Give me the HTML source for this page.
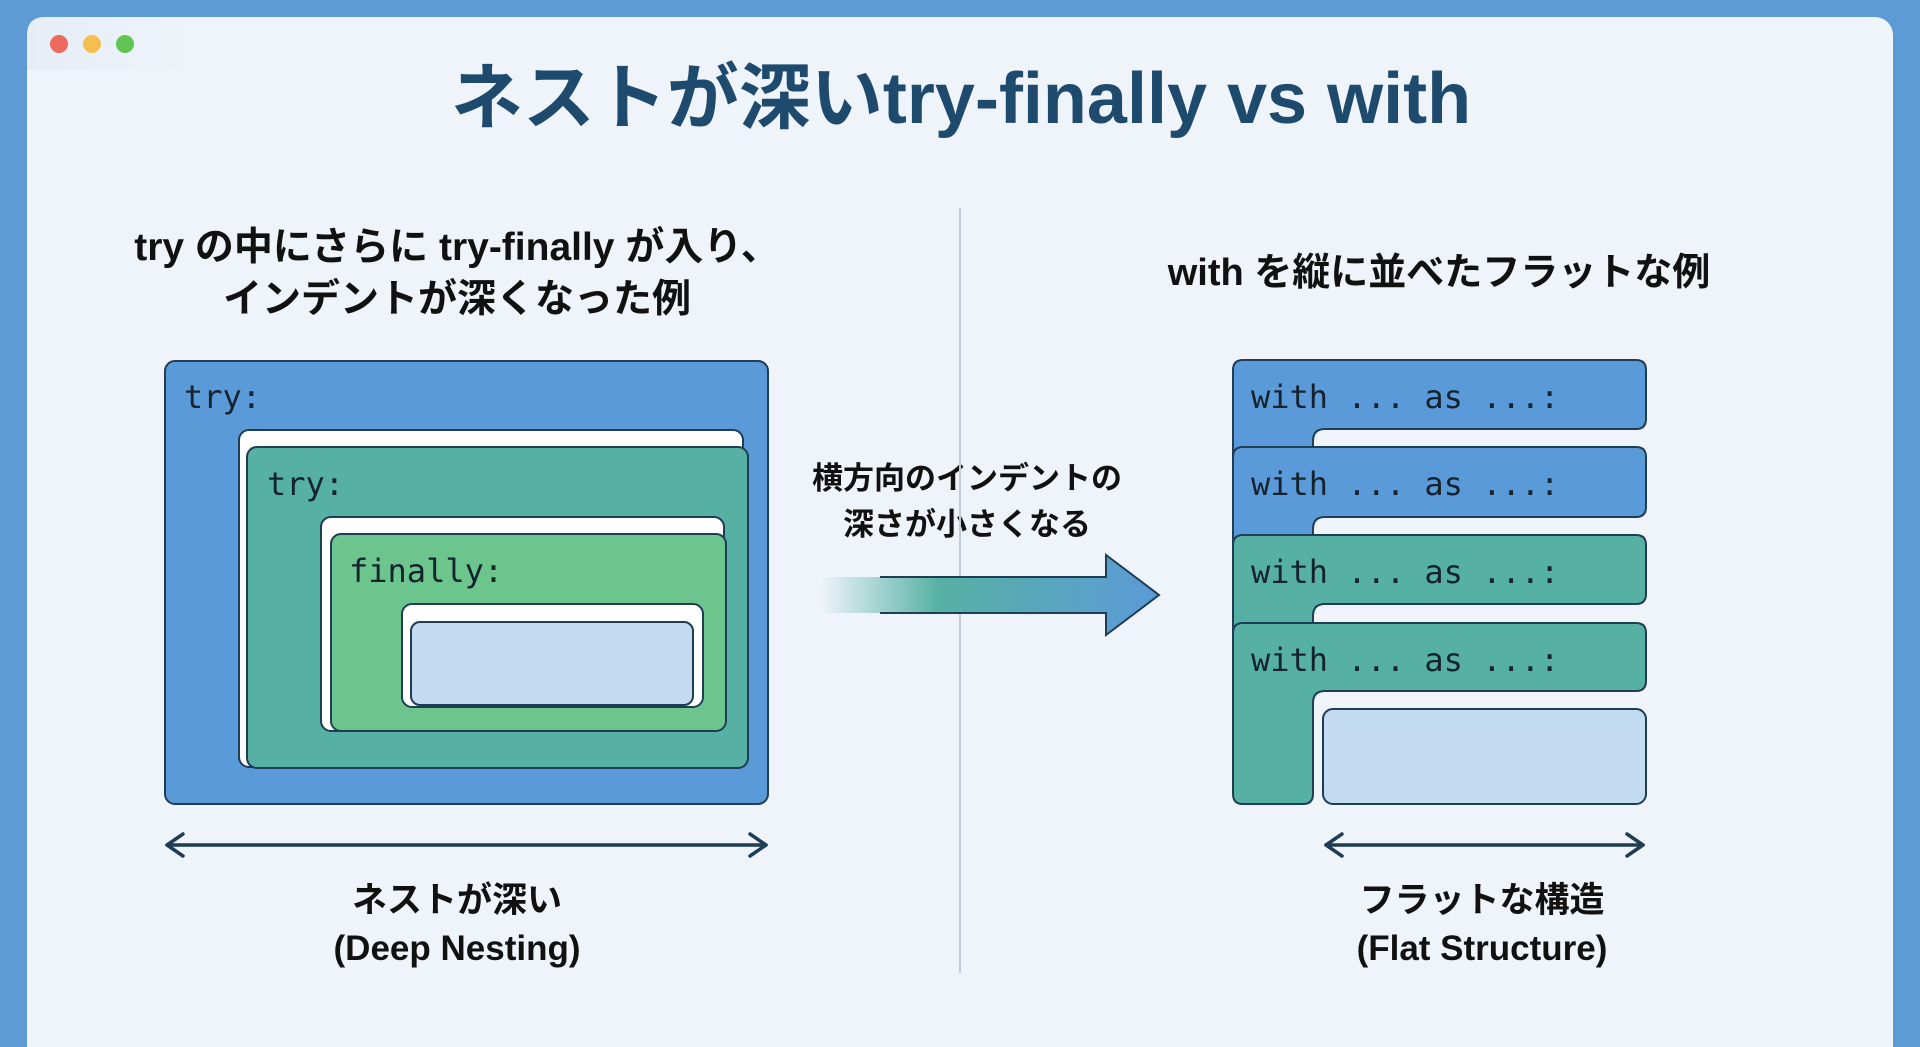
<!DOCTYPE html>
<html><head><meta charset="utf-8"><style>
html,body{margin:0;padding:0;width:1920px;height:1047px;overflow:hidden;background:#5e9ad6}
svg{display:block}
</style></head><body>
<svg width="1920" height="1047" viewBox="0 0 1920 1047" xmlns="http://www.w3.org/2000/svg">
<defs>
<linearGradient id="ag" x1="820" y1="0" x2="1160" y2="0" gradientUnits="userSpaceOnUse">
<stop offset="0" stop-color="#56b1a4" stop-opacity="0"/>
<stop offset="0.35" stop-color="#56b1a4"/>
<stop offset="1" stop-color="#5b9ad8"/>
</linearGradient>
<linearGradient id="tb" x1="0" y1="0" x2="1" y2="0">
<stop offset="0" stop-color="#e6edf5"/>
<stop offset="1" stop-color="#eff4fa"/>
</linearGradient>
</defs>
<rect x="0" y="0" width="1920" height="1047" fill="#5e9ad6"/>
<rect x="27" y="17" width="1866" height="1060" rx="18" fill="#eff4fa"/>
<path d="M27 70 V35 Q27 17 45 17 H200 V70 Z" fill="url(#tb)"/>
<circle cx="59" cy="44" r="9" fill="#ec6a5e"/>
<circle cx="92" cy="44" r="9" fill="#f4bf4f"/>
<circle cx="125" cy="44" r="9" fill="#61c554"/>
<g font-family="'Liberation Sans','Noto Sans CJK JP',sans-serif" font-weight="bold" text-anchor="middle">
<text x="961" y="123" font-size="72" fill="#1e4a6e">ネストが深いtry-finally vs with</text>
<text x="457" y="260" font-size="39" fill="#111">try の中にさらに try-finally が入り、</text>
<text x="457" y="312" font-size="39" fill="#111">インデントが深くなった例</text>
<text x="1439" y="285" font-size="38" fill="#111">with を縦に並べたフラットな例</text>
<text x="967" y="489" font-size="31" fill="#111">横方向のインデントの</text>
<text x="967" y="535" font-size="31" fill="#111">深さが小さくなる</text>
<text x="457" y="912" font-size="35" fill="#111">ネストが深い</text>
<text x="457" y="960" font-size="35" fill="#111">(Deep Nesting)</text>
<text x="1482" y="912" font-size="35" fill="#111">フラットな構造</text>
<text x="1482" y="960" font-size="35" fill="#111">(Flat Structure)</text>
</g>
<line x1="960" y1="208" x2="960" y2="973" stroke="#c3ccd6" stroke-width="2"/>
<g stroke="#1f3d55" stroke-width="2">
<rect x="165" y="361" width="603" height="443" rx="10" fill="#5b9ad8"/>
<rect x="239" y="430" width="504" height="337" rx="10" fill="#fff"/>
<rect x="247" y="447" width="501" height="321" rx="10" fill="#56b1a4"/>
<rect x="321" y="517" width="403" height="214" rx="10" fill="#fff"/>
<rect x="331" y="534" width="395" height="197" rx="10" fill="#6cc58c"/>
<rect x="402" y="604" width="301" height="103" rx="10" fill="#fff"/>
<rect x="411" y="622" width="282" height="83" rx="9" fill="#c2dbf0"/>
</g>
<g font-family="'DejaVu Sans Mono','Liberation Mono',monospace" font-size="32" fill="#15232e">
<text x="184" y="408">try:</text>
<text x="267" y="495">try:</text>
<text x="349" y="582">finally:</text>
</g>
<path d="M820 577 H1106 V555 L1159 595 L1106 635 V613 H820 Z" fill="url(#ag)"/>
<path d="M880 577 H1106 V555 L1159 595 L1106 635 V613 H880" fill="none" stroke="#1f3d55" stroke-width="2"/>
<g stroke="#1f3d55" stroke-width="2">
<path d="M1243 360 H1636 Q1646 360 1646 370 V419 Q1646 429 1636 429 H1325 Q1313 429 1313 441 V460 H1233 V370 Q1233 360 1243 360 Z" fill="#5b9ad8"/>
<path d="M1243 447 H1636 Q1646 447 1646 457 V507 Q1646 517 1636 517 H1325 Q1313 517 1313 529 V548 H1233 V457 Q1233 447 1243 447 Z" fill="#5b9ad8"/>
<path d="M1243 535 H1636 Q1646 535 1646 545 V594 Q1646 604 1636 604 H1325 Q1313 604 1313 616 V636 H1233 V545 Q1233 535 1243 535 Z" fill="#56b1a4"/>
<path d="M1243 623 H1636 Q1646 623 1646 633 V681 Q1646 691 1636 691 H1325 Q1313 691 1313 703 V794 Q1313 804 1303 804 H1243 Q1233 804 1233 794 V633 Q1233 623 1243 623 Z" fill="#56b1a4"/>
<rect x="1323" y="709" width="323" height="95" rx="10" fill="#c2dbf0"/>
</g>
<g font-family="'DejaVu Sans Mono','Liberation Mono',monospace" font-size="32" fill="#15232e">
<text x="1251" y="408">with ... as ...:</text>
<text x="1251" y="495">with ... as ...:</text>
<text x="1251" y="583">with ... as ...:</text>
<text x="1251" y="671">with ... as ...:</text>
</g>
<g stroke="#1f3d55" stroke-width="3.5" fill="none" stroke-linecap="round" stroke-linejoin="round">
<line x1="167" y1="845" x2="766" y2="845"/>
<polyline points="183,834 167,845 183,856"/>
<polyline points="750,834 766,845 750,856"/>
<line x1="1326" y1="845" x2="1643" y2="845"/>
<polyline points="1342,834 1326,845 1342,856"/>
<polyline points="1627,834 1643,845 1627,856"/>
</g>
</svg>
</body></html>
